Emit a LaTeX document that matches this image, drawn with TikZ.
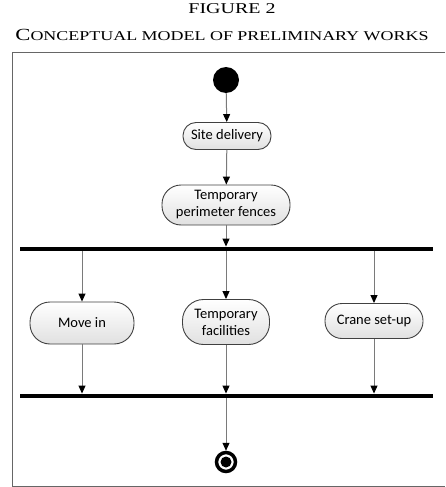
\documentclass[tikz,border=0pt]{standalone}
\usepackage{fontspec}
\setmainfont{Carlito}
\newfontfamily\capfont[FakeStretch=1.33]{Liberation Serif}
\usetikzlibrary{arrows.meta}
\definecolor{edgegray}{HTML}{7A7A7A}
\definecolor{boxline}{HTML}{404040}
\newcommand{\capbig}[1]{{\fontsize{17}{17}\selectfont #1}}
\newcommand{\capsmall}[1]{{\fontsize{13.5}{14}\selectfont #1}}
\tikzset{
  activity/.style={draw=boxline, line width=0.9pt,
    top color=white, bottom color=black!12, align=center,
    font=\fontsize{14.5}{17}\selectfont, inner sep=0pt},
  forkbar/.style={fill=black, draw=none, minimum width=413pt, minimum height=4.5pt, inner sep=0pt},
  flow/.style={draw=edgegray, line width=1pt, -{Triangle[width=7pt,length=8pt,color=black]}},
  frameline/.style={draw=black!60, line width=1pt},
}
\begin{document}
\begin{tikzpicture}[x=1pt,y=-1pt]
\useasboundingbox (0,0) rectangle (445,487);
% caption
\node[font=\capfont\fontsize{15}{15}\selectfont, inner sep=0pt, anchor=base] (fig) at (232,13.5) {FIGURE 2};
\node[font=\capfont, inner sep=0pt, anchor=base] (cap) at (222,40.5)
  {\capbig{C}\capsmall{ONCEPTUAL MODEL OF PRELIMINARY WORKS}};
% frame
\coordinate (ftr) at (445,52.5);
\coordinate (ftl) at (12,52.5);
\coordinate (fbl) at (12,486);
\coordinate (fbr) at (445,486);
\draw[frameline] (ftr) -- (ftl) -- (fbl) -- (fbr);
% initial and final states
\node[circle, fill=black, minimum size=26pt, inner sep=0pt] (start) at (226,80) {};
\node[circle, draw=black, line width=3.5pt, minimum size=19pt, inner sep=0pt] (finish) at (226,462) {};
\fill[black] (finish.center) circle (5.5pt);
% activities
\node[activity, minimum width=88pt, minimum height=27pt, rounded corners=13pt] (site) at (227,136) {Site delivery};
\node[activity, minimum width=128pt, minimum height=40pt, rounded corners=19pt] (fence) at (226,205) {Temporary\\perimeter fences};
\node[forkbar] (fork) at (226.5,249) {};
\node[activity, minimum width=104pt, minimum height=42pt, rounded corners=20pt] (move) at (82,323) {Move in};
\node[activity, minimum width=87pt, minimum height=45pt, rounded corners=21pt] (facil) at (226,322) {Temporary\\facilities};
\node[activity, minimum width=98pt, minimum height=35pt, rounded corners=17pt] (crane) at (374,321) {Crane set-up};
\node[forkbar] (join) at (226.5,396) {};
% flows
\draw[flow] (start) -- (site);
\draw[flow] (site) -- (fence);
\draw[flow] (fence) -- (fence.south |- fork.north);
\draw[flow] (fork.south -| move) -- (move);
\draw[flow] (fork.south -| facil) -- (facil);
\draw[flow] (fork.south -| crane) -- (crane);
\draw[flow] (move) -- (move |- join.north);
\draw[flow] (facil) -- (facil |- join.north);
\draw[flow] (crane) -- (crane |- join.north);
\draw[flow] (join.south -| finish) -- (finish);
\end{tikzpicture}
\end{document}
